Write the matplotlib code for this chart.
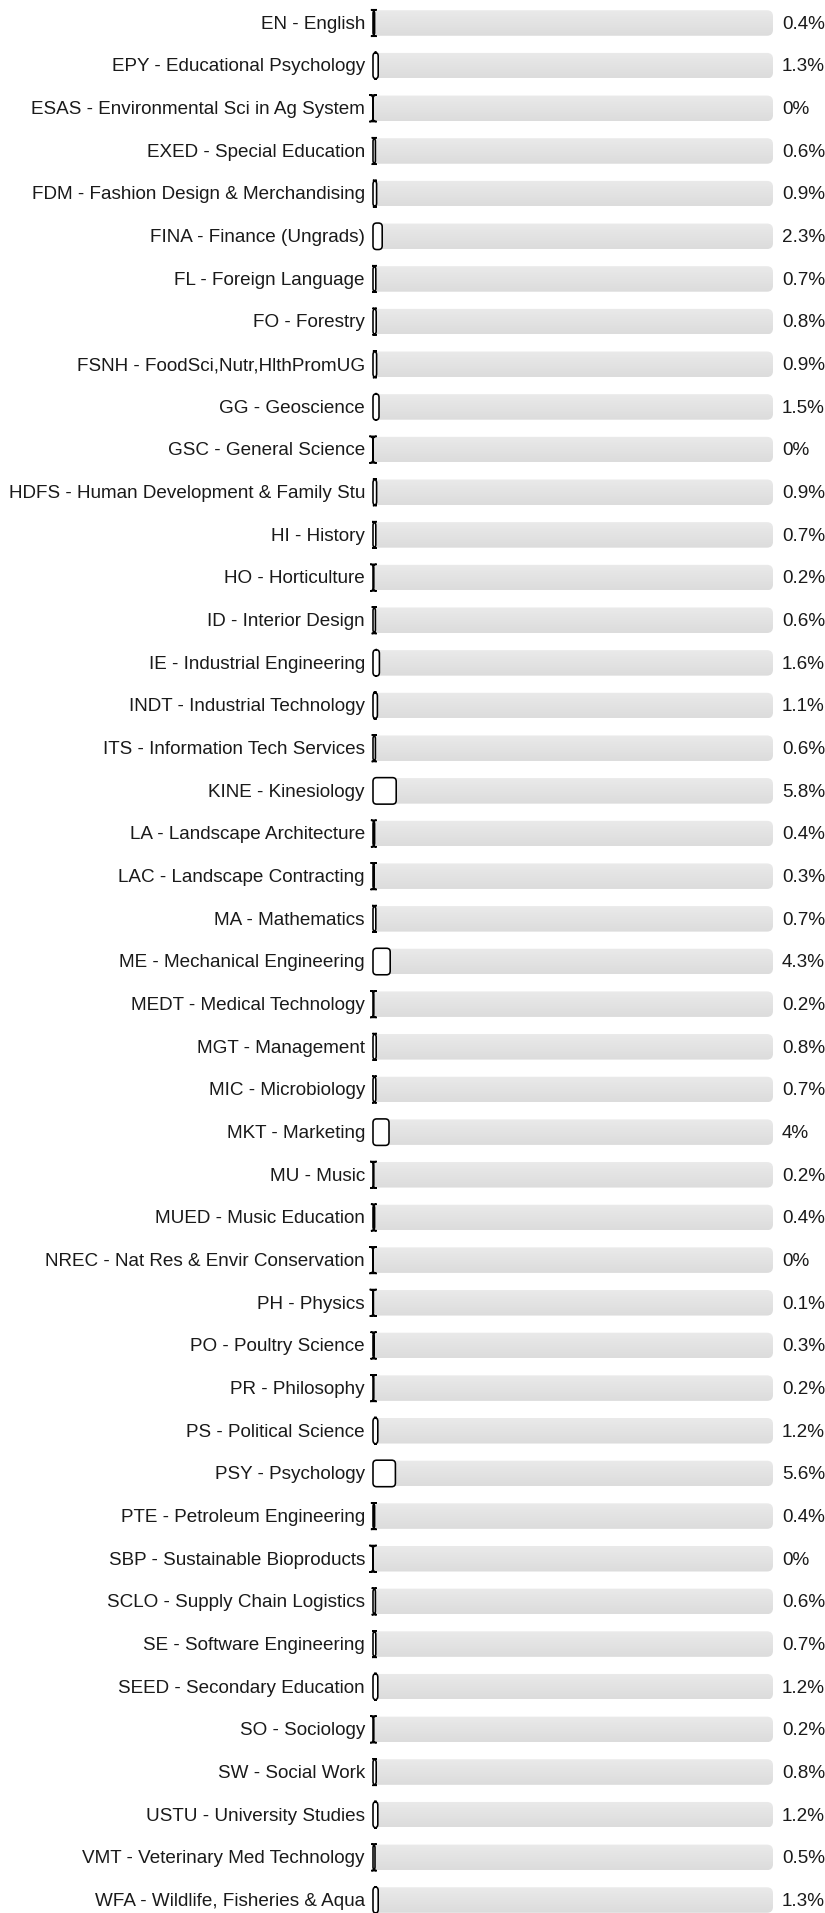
import matplotlib
matplotlib.use("Agg")
import matplotlib.pyplot as plt
import numpy as np
from matplotlib.patches import FancyBboxPatch
from matplotlib.colors import LinearSegmentedColormap

plt.rcParams['font.family'] = ['Liberation Sans', 'DejaVu Sans']

categories = [
    "EN - English", "EPY - Educational Psychology", "ESAS - Environmental Sci in Ag System",
    "EXED - Special Education", "FDM - Fashion Design & Merchandising", "FINA - Finance (Ungrads)",
    "FL - Foreign Language", "FO - Forestry", "FSNH - FoodSci,Nutr,HlthPromUG",
    "GG - Geoscience", "GSC - General Science", "HDFS - Human Development & Family Stu",
    "HI - History", "HO - Horticulture", "ID - Interior Design",
    "IE - Industrial Engineering", "INDT - Industrial Technology", "ITS - Information Tech Services",
    "KINE - Kinesiology", "LA - Landscape Architecture", "LAC - Landscape Contracting",
    "MA - Mathematics", "ME - Mechanical Engineering", "MEDT - Medical Technology",
    "MGT - Management", "MIC - Microbiology", "MKT - Marketing",
    "MU - Music", "MUED - Music Education", "NREC - Nat Res & Envir Conservation",
    "PH - Physics", "PO - Poultry Science", "PR - Philosophy",
    "PS - Political Science", "PSY - Psychology", "PTE - Petroleum Engineering",
    "SBP - Sustainable Bioproducts", "SCLO - Supply Chain Logistics", "SE - Software Engineering",
    "SEED - Secondary Education", "SO - Sociology", "SW - Social Work",
    "USTU - University Studies", "VMT - Veterinary Med Technology", "WFA - Wildlife, Fisheries & Aqua",
]
values = [
    0.4, 1.3, 0, 0.6, 0.9, 2.3, 0.7, 0.8, 0.9, 1.5, 0, 0.9, 0.7, 0.2, 0.6,
    1.6, 1.1, 0.6, 5.8, 0.4, 0.3, 0.7, 4.3, 0.2, 0.8, 0.7, 4, 0.2, 0.4, 0,
    0.1, 0.3, 0.2, 1.2, 5.6, 0.4, 0, 0.6, 0.7, 1.2, 0.2, 0.8, 1.2, 0.5, 1.3,
]
scale_max = 100

W, H = 825, 1913
fig = plt.figure(figsize=(W / 100, H / 100), dpi=100)
x0_px, x1_px = 373, 773
ax = fig.add_axes([x0_px / W, 0, (x1_px - x0_px) / W, 1])
ax.set_axis_off()

row_px = 42.66
top = -23 / row_px

px_x = scale_max / (x1_px - x0_px)   # data units per px (x)
px_y = 1 / row_px                     # data units per px (y)
aspect = px_y / px_x

grad_cmap = LinearSegmentedColormap.from_list("trk", ["#eaeaea", "#dcdcdc"])
grad = np.linspace(0, 1, 64).reshape(-1, 1)

for i, (cat, v) in enumerate(zip(categories, values)):
    # background track
    bh = 25.5 * px_y
    r = 6 * px_x
    bg = FancyBboxPatch((0, i - bh / 2), scale_max, bh,
                        boxstyle=f"round,pad=0,rounding_size={r}",
                        mutation_aspect=aspect, facecolor="none",
                        edgecolor="none", zorder=1)
    ax.add_patch(bg)
    im = ax.imshow(grad, cmap=grad_cmap, aspect="auto", zorder=1,
                   extent=(0, scale_max, i + bh / 2, i - bh / 2),
                   interpolation="bilinear")
    im.set_clip_path(bg)
    # value bar
    vh = 26.5 * px_y
    vr = 3.7 * px_x
    vb = FancyBboxPatch((0, i - vh / 2), v, vh,
                        boxstyle=f"round,pad=0,rounding_size={vr}",
                        mutation_aspect=aspect, facecolor="white",
                        edgecolor="black", linewidth=1.15, zorder=2,
                        clip_on=False)
    ax.add_patch(vb)
    ax.text(-2.0, i + 5.8 * px_y, cat, ha="right", va="baseline",
            fontsize=13.6, color="#1a1a1a")
    ax.text(102.2, i + 5.8 * px_y, f"{v:g}%", ha="left", va="baseline",
            fontsize=13.6, color="#1a1a1a")

ax.set_xlim(0, scale_max)
ax.set_ylim(top + H / row_px, top)

fig.savefig("out.png", dpi=100)
